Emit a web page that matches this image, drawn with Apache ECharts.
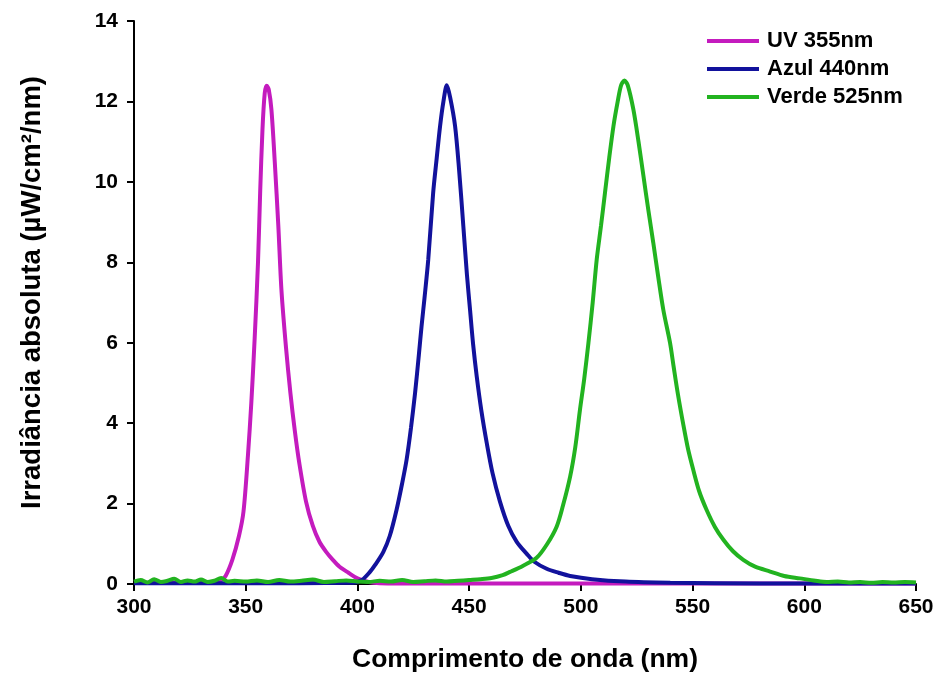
<!DOCTYPE html>
<html>
	<head>
		<meta charset="utf-8" />
		<title>Irradiância LED</title>
		<script type="text/javascript" src="https://cdn.jsdelivr.net/npm/echarts@6/dist/echarts.min.js"></script>
	</head>
	<body style="margin:0;">
		<div id="chart" style="width:937px;height:679px;"></div>
	</body>
	<script>
	// UV 355nm
	var uvNm = [300, 310, 320, 330, 336, 339, 341, 344, 347, 349, 351, 352.5, 354, 355.5, 356.5, 357.5, 358.5, 359.4, 360.3, 361.5, 363, 364.6, 366, 368, 370, 372, 374, 377, 380, 383, 386, 389, 392, 396, 400, 405, 410, 430, 470, 520, 560, 610, 650];
	var uvVal = [0.03, 0.03, 0.03, 0.04, 0.05, 0.1, 0.2, 0.6, 1.2, 1.8, 3.2, 4.5, 6.1, 8.0, 9.8, 11.3, 12.2, 12.39, 12.3, 11.8, 10.5, 8.9, 7.3, 5.9, 4.75, 3.8, 3.0, 2.05, 1.45, 1.05, 0.8, 0.6, 0.43, 0.28, 0.14, 0.05, 0.02, 0.01, 0.01, 0.01, 0.01, 0.01, 0.01];

	// Azul 440nm
	var azulNm = [300, 350, 398, 402, 405.6, 408, 411.6, 414.5, 417.5, 420, 422, 424, 425.8, 427.5, 428.7, 430, 431.7, 433.9, 435.5, 437, 438.5, 440, 441.5, 443.7, 445.5, 447.4, 449, 450.4, 451.8, 453.4, 455.5, 457.9, 460.5, 463.8, 467.5, 471.3, 475.8, 479, 484.7, 490, 495.2, 505, 520, 540, 560, 600, 650];
	var azulVal = [0.02, 0.02, 0.03, 0.1, 0.3, 0.48, 0.8, 1.2, 1.84, 2.5, 3.09, 3.9, 4.75, 5.7, 6.41, 7.1, 8.07, 9.73, 10.6, 11.39, 12.0, 12.4, 12.1, 11.39, 10.3, 8.9, 7.7, 6.82, 5.95, 5.16, 4.3, 3.5, 2.75, 2.05, 1.45, 1.05, 0.75, 0.56, 0.38, 0.28, 0.2, 0.12, 0.06, 0.03, 0.02, 0.01, 0.01];

	// Verde 525nm
	var verdeNm = [300, 303, 306, 309, 312, 315, 318, 321, 324, 327, 330, 333, 336, 339, 342, 345, 350, 355, 360, 365, 370, 375, 380, 385, 390, 395, 400, 405, 410, 415, 420, 425, 430, 435, 440, 445, 450, 455, 460, 465, 468.3, 474, 480.2, 485, 489.2, 492, 495.2, 497.5, 499.6, 501.5, 503.4, 505.3, 507.1, 509, 510.8, 512.7, 514.6, 516.5, 518, 519.5, 521, 523.5, 525.8, 528, 530.2, 532.4, 534.6, 536.9, 539.9, 541.4, 543.5, 545.9, 548, 550.3, 553, 556.3, 560, 563.8, 568, 572.7, 578, 584.7, 591, 598, 605, 610, 615, 620, 625, 630, 635, 640, 645, 650];
	var verdeVal = [0.06, 0.1, 0.04, 0.12, 0.05, 0.08, 0.13, 0.05, 0.09, 0.06, 0.11, 0.05, 0.08, 0.15, 0.06, 0.08, 0.06, 0.09, 0.05, 0.1, 0.06, 0.08, 0.11, 0.05, 0.07, 0.09, 0.06, 0.05, 0.08, 0.06, 0.1, 0.05, 0.07, 0.09, 0.06, 0.08, 0.1, 0.12, 0.15, 0.22, 0.3, 0.45, 0.65, 1.0, 1.43, 1.95, 2.67, 3.4, 4.33, 5.1, 6.0, 7.0, 8.07, 8.9, 9.73, 10.6, 11.39, 12.0, 12.4, 12.52, 12.4, 11.8, 11.0, 10.15, 9.3, 8.49, 7.65, 6.82, 6.0, 5.45, 4.7, 3.95, 3.35, 2.84, 2.3, 1.84, 1.42, 1.1, 0.82, 0.6, 0.43, 0.31, 0.2, 0.14, 0.08, 0.05, 0.06, 0.04, 0.05, 0.03, 0.05, 0.04, 0.05, 0.04];

	var xTicks = [300, 350, 400, 450, 500, 550, 600, 650];
	var yTicks = [0, 2, 4, 6, 8, 10, 12, 14];

	function pares(xs, ys) {
		var out = [];
		for (var i = 0; i < xs.length; i++) {
			out.push([xs[i], ys[i]]);
		}
		return out;
	}

	var dom = document.getElementById('chart');
	var myChart = echarts.init(dom, null, { renderer: 'canvas' });
	var fonte = '"Liberation Sans", Arial, sans-serif';

	var eixoLinha = { show: true, onZero: false, lineStyle: { color: '#000', width: 2 } };
	var eixoTick = { show: true, inside: false, length: 7, lineStyle: { color: '#000', width: 2 } };

	var option = {
		backgroundColor: '#fff',
		animation: false,
		grid: { left: 134, right: 21, top: 21, bottom: 95 },
		legend: {
			orient: 'vertical',
			left: 702,
			top: 25,
			icon: 'rect',
			itemWidth: 52,
			itemHeight: 4,
			itemGap: 6,
			textStyle: { fontFamily: fonte, fontWeight: 'bold', fontSize: 22, color: '#000', padding: [0, 0, 0, 3] },
			data: ['UV 355nm', 'Azul 440nm', 'Verde 525nm']
		},
		xAxis: {
			type: 'value',
			min: xTicks[0],
			max: xTicks[xTicks.length - 1],
			interval: 50,
			name: 'Comprimento de onda (nm)',
			nameLocation: 'middle',
			nameGap: 62,
			nameTextStyle: { fontFamily: fonte, fontWeight: 'bold', fontSize: 26.5, color: '#000' },
			axisLine: eixoLinha,
			axisTick: eixoTick,
			axisLabel: { margin: 13, fontFamily: fonte, fontWeight: 'bold', fontSize: 21, color: '#000' },
			splitLine: { show: false }
		},
		yAxis: {
			type: 'value',
			min: yTicks[0],
			max: yTicks[yTicks.length - 1],
			interval: 2,
			name: 'Irradiância absoluta (µW/cm²/nm)',
			nameLocation: 'middle',
			nameGap: 88,
			nameTextStyle: { fontFamily: fonte, fontWeight: 'bold', fontSize: 27.5, color: '#000', padding: [0, 0, 0, 20] },
			axisLine: eixoLinha,
			axisTick: eixoTick,
			axisLabel: { margin: 16, fontFamily: fonte, fontWeight: 'bold', fontSize: 21, color: '#000' },
			splitLine: { show: false }
		},
		series: [
			{
				name: 'UV 355nm',
				type: 'line',
				showSymbol: false,
				smooth: 0.3,
				color: '#c41bbe',
				lineStyle: { width: 4 },
				data: pares(uvNm, uvVal)
			},
			{
				name: 'Azul 440nm',
				type: 'line',
				showSymbol: false,
				smooth: 0.3,
				color: '#12129c',
				lineStyle: { width: 4 },
				data: pares(azulNm, azulVal)
			},
			{
				name: 'Verde 525nm',
				type: 'line',
				showSymbol: false,
				smooth: 0.3,
				color: '#22b320',
				lineStyle: { width: 4 },
				data: pares(verdeNm, verdeVal)
			}
		]
	};
	myChart.setOption(option);
	window.addEventListener('resize', myChart.resize);
	</script>
</html>
